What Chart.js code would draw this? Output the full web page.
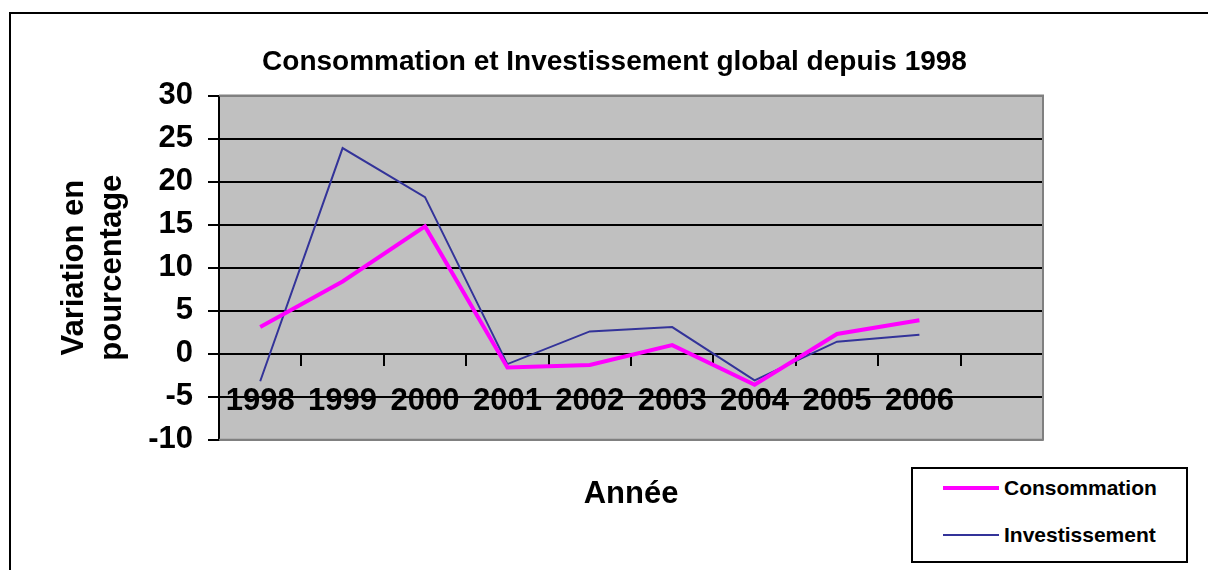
<!DOCTYPE html>
<html>
<head>
<meta charset="utf-8">
<script src="https://cdn.jsdelivr.net/npm/chart.js@4"></script>
<style>
  body { margin:0; background:#fff; overflow:hidden; }
  #wrap { position:relative; width:1208px; height:570px; overflow:hidden; }
  #frame { position:absolute; left:9px; top:12px; width:1300px; height:700px; border:2px solid #000; }
  canvas { position:absolute; left:0; top:0; }
  #legend { position:absolute; left:911px; top:467px; width:273px; height:92px; border:2px solid #000; background:#fff;
            font: bold 21px "Liberation Sans", Arial, sans-serif; color:#000; }
  .item { position:absolute; left:30px; height:24px; display:flex; align-items:center; white-space:nowrap; }
  .swatch { width:56px; margin-right:5px; }
</style>
</head>
<body>
<div id="wrap">
  <div id="frame"></div>
  <canvas id="chart-1" width="1208" height="570"></canvas>
  <div id="legend"></div>
</div>
<script>
const categories = ['1998', '1999', '2000', '2001', '2002', '2003', '2004', '2005', '2006'];
const consommation = [3.1, 8.4, 14.8, -1.6, -1.3, 1.0, -3.6, 2.3, 3.9];
const investissement = [-3.2, 23.9, 18.2, -1.2, 2.6, 3.1, -3.1, 1.4, 2.2];
const yMin = -10, yMax = 30, yStep = 5;
const seriesNames = ['Consommation', 'Investissement'];
const seriesColors = ['#ff00ff', '#333399'];
const seriesWidths = [4, 2];

const FONT = '"Liberation Sans", Arial, sans-serif';

// gray plot area + gray frame on top/right/bottom
const plotBg = {
  id: 'plotBg',
  beforeDraw(chart) {
    const {ctx, chartArea: a} = chart;
    ctx.save();
    ctx.fillStyle = '#c0c0c0';
    ctx.fillRect(a.left, a.top, a.width, a.height);
    ctx.restore();
  },
  beforeDatasetsDraw(chart) {
    const {ctx, chartArea: a} = chart;
    ctx.save();
    ctx.strokeStyle = '#808080';
    ctx.lineWidth = 2;
    ctx.beginPath();
    ctx.moveTo(a.left, a.top);
    ctx.lineTo(a.right, a.top);
    ctx.lineTo(a.right, a.bottom);
    ctx.lineTo(a.left, a.bottom);
    ctx.stroke();
    ctx.restore();
  }
};

new Chart(document.getElementById('chart-1'), {
  type: 'line',
  data: {
    labels: [...categories, ''],
    datasets: [
      {
        label: seriesNames[0],
        data: consommation,
        borderColor: seriesColors[0],
        borderWidth: seriesWidths[0],
        pointRadius: 0,
        tension: 0,
        fill: false,
      },
      {
        label: seriesNames[1],
        data: investissement,
        borderColor: seriesColors[1],
        borderWidth: seriesWidths[1],
        pointRadius: 0,
        tension: 0,
        fill: false,
      }
    ]
  },
  options: {
    responsive: false,
    animation: false,
    devicePixelRatio: 1,
    layout: { padding: { left: 21 } },
    plugins: {
      legend: { display: false },
      tooltip: { enabled: false },
      title: {
        display: true,
        text: 'Consommation et Investissement global depuis 1998',
        color: '#000',
        font: { family: FONT, size: 28, weight: 'bold', lineHeight: 1.2 },
        padding: { top: 45, bottom: 17 }
      },
      subtitle: {
        display: true,
        position: 'bottom',
        fullSize: false,
        text: 'Année',
        color: '#000',
        font: { family: FONT, size: 31, weight: 'bold', lineHeight: 1.2 },
        padding: { top: 36, bottom: 57 }
      }
    },
    scales: {
      x: {
        type: 'category',
        position: { y: 0 },
        offset: true,
        grid: { offset: true, drawOnChartArea: false, drawTicks: true, tickLength: 11, color: '#000', lineWidth: 2 },
        border: { display: true, color: '#000', width: 2 },
        ticks: { color: '#000', font: { family: FONT, size: 31, weight: 'bold' }, padding: 18, maxRotation: 0, autoSkip: false }
      },
      y: {
        position: 'left',
        min: yMin,
        max: yMax,
        afterFit: s => { s.width = 198 },
        ticks: { stepSize: yStep, color: '#000', padding: 15, font: { family: FONT, size: 31, weight: 'bold' } },
        grid: {
          color: c => (c.tick.value === yMin || c.tick.value === yMax) ? '#808080' : '#000',
          tickColor: '#000',
          lineWidth: 2,
          tickLength: 11
        },
        border: { display: true, color: '#000', width: 2 },
        title: {
          display: true,
          text: ['Variation en', 'pourcentage'],
          color: '#000',
          font: { family: FONT, size: 31, weight: 'bold', lineHeight: 1.23 },
          padding: { top: 34, bottom: 0 }
        }
      },
      y2: {
        position: 'right',
        display: true,
        afterFit: s => { s.width = 165 },
        grid: { display: false },
        border: { display: false },
        ticks: { display: false }
      }
    }
  },
  plugins: [plotBg]
});

// legend box
const legend = document.getElementById('legend');
const itemTops = [7, 54];
seriesNames.forEach((name, i) => {
  legend.innerHTML += `<div class="item" style="top:${itemTops[i]}px">
    <div class="swatch" style="height:${seriesWidths[i]}px;background:${seriesColors[i]}"></div>${name}</div>`;
});
</script>
</body>
</html>
